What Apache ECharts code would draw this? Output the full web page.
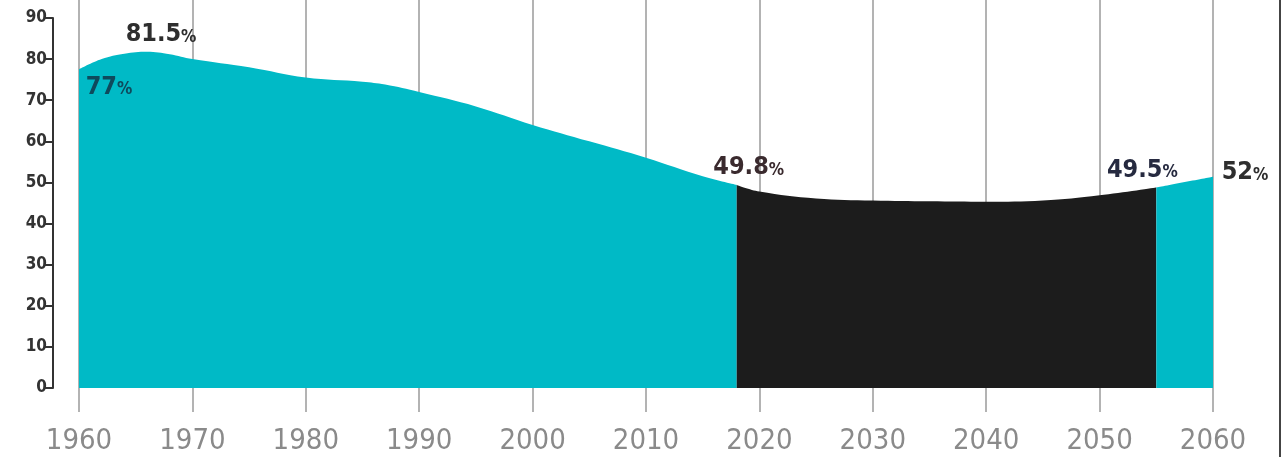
<!DOCTYPE html>
<html>
<head>
<meta charset="utf-8">
<script src="https://cdn.jsdelivr.net/npm/echarts@6/dist/echarts.min.js"></script>
<style>
  html, body { margin: 0; padding: 0; background: #fff; }
  #wrap { position: relative; width: 1284px; height: 457px; }
  #chart { width: 1284px; height: 457px; }
  #edge { position: absolute; left: 1279px; top: 0; width: 2px; height: 457px; background: #444; }
</style>
</head>
<body>
<div id="wrap"><div id="chart"></div><div id="edge"></div></div>
<script>
// ---- data ----
const yearsPast   = [1960, 1962, 1964, 1966, 1968, 1970, 1975, 1980, 1985, 1987, 1990, 1995, 2000, 2005, 2010, 2015, 2018];
const valuesPast  = [77.5, 80.0, 81.3, 81.8, 81.2, 80.0, 78.0, 75.5, 74.5, 73.8, 72.0, 68.5, 64.0, 60.0, 56.0, 51.5, 49.4];
const yearsMid    = [2018, 2020, 2025, 2030, 2035, 2040, 2045, 2050, 2055];
const valuesMid   = [49.4, 47.8, 46.1, 45.6, 45.4, 45.3, 45.6, 46.9, 48.8];
const yearsLate   = [2055, 2060];
const valuesLate  = [48.8, 51.4];
const labelYears  = [1966, 1960, 2018, 2055, 2060];
const labelValues = [81.8, 77.5, 49.4, 48.8, 51.4];
const labelNums   = ['81.5', '77', '49.8', '49.5', '52'];
const yTicks      = [0, 10, 20, 30, 40, 50, 60, 70, 80, 90];
const xTicks      = [1960, 1970, 1980, 1990, 2000, 2010, 2020, 2030, 2040, 2050, 2060];

const TEAL = '#00BAC6';
const DARK = '#1c1c1c';
const FONT = "'DejaVu Sans Condensed', 'Liberation Sans Narrow', 'Roboto Condensed', 'Noto Sans', sans-serif";

const labelStyles = [
  { offset: [14, -17], color: '#2e2e2e' },
  { offset: [30, 18],  color: '#0e4a5c' },
  { offset: [12, -17], color: '#3a2a2e' },
  { offset: [-14, -17], color: '#262a40' },
  { offset: [32, -4],  color: '#2e2e2e' }
];

const pair = (xs, vs) => xs.map((x, i) => [x, vs[i]]);

const markData = labelYears.map((yr, i) => ({
  coord: [yr, labelValues[i]],
  label: {
    show: true,
    offset: labelStyles[i].offset,
    formatter: '{n|' + labelNums[i] + '}{p|%}',
    rich: {
      n: { fontFamily: FONT, fontSize: 25, fontWeight: 'bold', color: labelStyles[i].color },
      p: { fontFamily: FONT, fontSize: 17, fontWeight: 'bold', color: labelStyles[i].color, padding: [5, 0, 0, 0] }
    }
  }
}));

const xBase = { type: 'value', min: 1960, max: 2060, interval: 10 };

const chart = echarts.init(document.getElementById('chart'), null, { renderer: 'canvas' });
chart.setOption({
  animation: false,
  backgroundColor: '#ffffff',
  grid: [
    { left: 79, right: 71, top: 18, bottom: 69 },
    { left: 79, right: 71, top: 0, height: 18 }
  ],
  xAxis: [
    Object.assign({}, xBase, {
      gridIndex: 0,
      axisLine: { show: false },
      axisTick: { show: true, length: 24, lineStyle: { color: '#9a9a9a', width: 1.5 } },
      axisLabel: { color: '#8a8a8a', fontFamily: FONT, fontSize: 29, margin: 39,
        customValues: xTicks, formatter: v => String(v) },
      splitLine: { show: true, lineStyle: { color: '#9a9a9a', width: 1.5 } }
    }),
    Object.assign({}, xBase, {
      gridIndex: 1,
      axisLine: { show: false }, axisTick: { show: false }, axisLabel: { show: false },
      splitLine: { show: true, lineStyle: { color: '#9a9a9a', width: 1.5 } }
    })
  ],
  yAxis: [
    {
      type: 'value', gridIndex: 0, min: 0, max: 90, interval: 10, offset: 26,
      axisLine: { show: true, lineStyle: { color: '#333', width: 2 } },
      axisTick: { show: true, length: 9, lineStyle: { color: '#333', width: 2 } },
      axisLabel: { color: '#333', fontFamily: FONT, fontSize: 17, fontWeight: 'bold', margin: 6,
        customValues: yTicks },
      splitLine: { show: false }
    },
    { type: 'value', gridIndex: 1, min: 0, max: 1, show: false }
  ],
  series: [
    {
      type: 'line', xAxisIndex: 0, yAxisIndex: 0, data: pair(yearsPast, valuesPast),
      smooth: 0.4, symbol: 'none', lineStyle: { width: 0 },
      areaStyle: { color: TEAL, opacity: 1 },
      markPoint: { symbol: 'circle', symbolSize: 0, data: markData, silent: true }
    },
    {
      type: 'line', xAxisIndex: 0, yAxisIndex: 0, data: pair(yearsMid, valuesMid),
      smooth: 0.4, symbol: 'none', lineStyle: { width: 0 },
      areaStyle: { color: DARK, opacity: 1 }
    },
    {
      type: 'line', xAxisIndex: 0, yAxisIndex: 0, data: pair(yearsLate, valuesLate),
      smooth: 0.4, symbol: 'none', lineStyle: { width: 0 },
      areaStyle: { color: TEAL, opacity: 1 }
    }
  ]
});
</script>
</body>
</html>
